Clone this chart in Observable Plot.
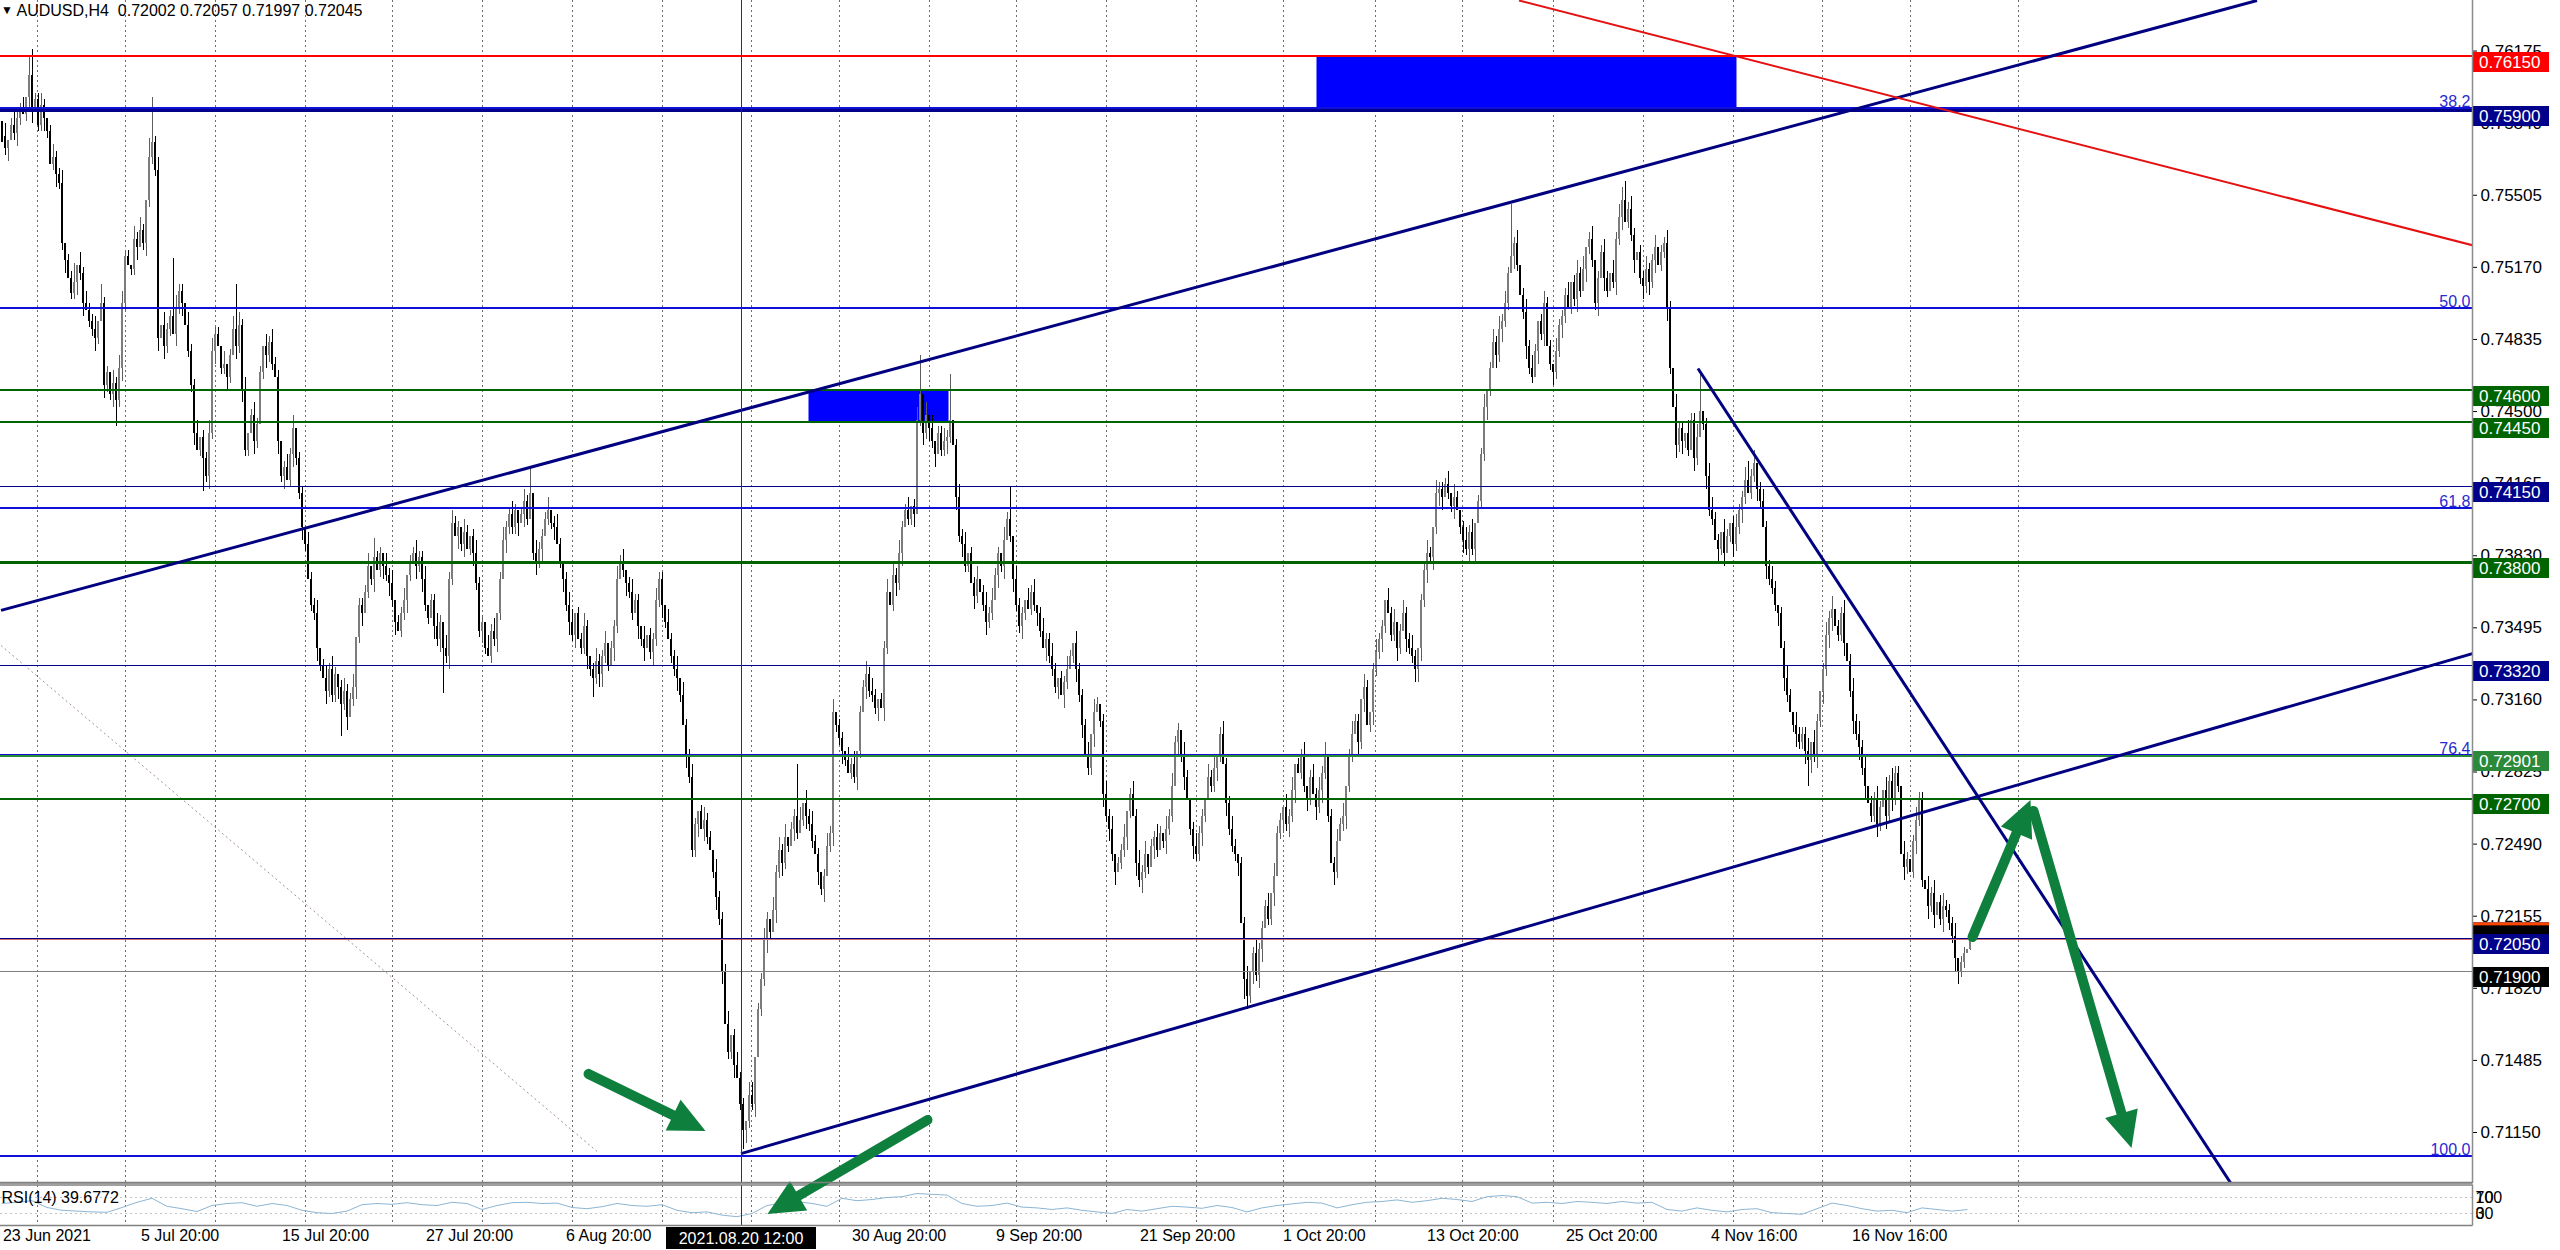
<!DOCTYPE html>
<html><head><meta charset="utf-8">
<script src="https://cdn.jsdelivr.net/npm/d3@7"></script>
<script src="https://cdn.jsdelivr.net/npm/@observablehq/plot@0.6"></script>
<style>
html,body{margin:0;padding:0;background:#fff;}
#wrap{position:relative;width:2560px;height:1250px;overflow:hidden;background:#fff;font-family:"Liberation Sans",Arial,sans-serif;}
#main,#rsi{position:absolute;left:0;}
#main{top:0;z-index:2;}
#rsi{top:1183px;z-index:1;}
#hdr{position:absolute;left:1px;top:0px;z-index:3;font-size:16px;line-height:20px;white-space:pre;color:#000;}
#hdr .tri{font-size:12px;vertical-align:2px;}
</style></head><body>
<div id="wrap"><div id="rsi"></div><div id="main"></div><div id="hdr"></div></div>
<script>
// ---------------- DATA ----------------
const symbol = "AUDUSD,H4";
const headerOHLC = [0.72002, 0.72057, 0.71997, 0.72045];
const firstOpenPips = 582;
// H4 closes, pips above 0.7000
const closePips = [
578,572,576,583,579,586,590,588,596,606,
590,595,583,592,586,580,565,568,560,556,
528,520,512,505,510,518,514,500,497,492,
488,484,492,500,462,468,458,463,455,470,
500,522,518,516,530,526,534,528,548,568,
575,562,484,490,480,488,494,486,498,506,
500,490,478,462,440,432,438,428,420,440,
478,486,480,470,472,466,476,488,480,490,
460,432,440,448,436,444,468,480,476,482,
472,466,436,420,424,418,430,442,428,412,
396,388,372,360,356,340,332,326,320,330,
318,328,322,314,320,308,316,322,345,360,
356,366,378,372,382,376,384,378,374,370,
362,352,348,356,362,374,380,384,378,382,
372,360,354,362,350,344,352,340,336,372,
398,392,396,388,394,386,392,384,370,348,
352,340,336,348,344,356,372,390,396,402,
396,404,398,402,408,400,412,384,380,386,
392,400,404,398,396,388,380,372,360,352,
346,356,344,340,350,336,330,326,334,328,
336,342,332,340,350,372,380,376,370,366,
356,362,350,344,340,346,338,344,362,372,
360,352,344,336,330,326,318,304,290,280,
246,258,264,256,260,252,246,236,224,214,
190,165,152,160,146,140,128,116,120,132,
128,150,172,186,204,214,208,218,236,246,
240,252,248,256,262,254,260,268,262,258,
250,244,236,228,234,248,254,310,304,298,
292,288,282,286,280,292,310,322,328,320,
318,312,316,312,340,366,360,374,370,384,
396,404,400,406,402,446,458,440,448,442,
436,430,440,432,436,438,446,434,410,392,
388,378,384,370,364,372,366,360,352,356,
362,374,384,378,390,400,392,372,360,350,
356,362,358,366,360,356,348,340,344,336,
330,322,326,318,324,330,336,342,330,318,
304,290,284,300,310,314,306,272,262,256,
244,236,240,246,252,264,272,262,240,232,
236,244,238,248,252,246,254,250,256,262,
276,296,302,290,280,270,256,248,244,254,
262,270,280,276,284,290,300,286,268,256,
248,244,240,212,186,178,190,198,188,200,
210,220,214,226,234,254,260,266,258,262,
274,286,282,290,276,270,280,272,266,274,
282,290,262,240,236,250,258,262,276,290,
300,306,296,316,322,304,310,330,338,344,
350,362,356,346,352,340,348,356,344,340,
336,330,340,362,376,384,382,396,412,414,
410,416,412,406,410,404,396,390,386,394,
386,398,408,430,452,460,470,482,476,488,
492,500,514,522,528,518,504,496,480,470,
466,478,492,486,500,480,472,468,478,490,
494,504,498,510,502,514,506,516,526,530,
520,500,512,524,512,506,514,510,530,540,
548,538,544,532,520,524,512,508,516,510,
520,526,518,524,528,498,470,452,434,442,
436,440,432,446,428,438,450,444,420,404,
400,390,386,394,384,392,398,388,396,404,
410,418,412,420,426,414,408,396,378,372,
368,360,356,340,326,318,310,304,300,296,
300,292,288,296,290,306,320,330,346,354,
358,350,346,356,342,334,320,306,300,294,
284,276,268,262,270,258,266,274,262,278,
270,282,276,244,238,242,236,250,260,270,
232,228,220,226,216,222,214,220,218,212,
206,196,190,194,198,200,200.2
];
// upper / lower wick lengths, in units of 3 pips, one digit per bar
const upWickDigits = `
1201211203 4112101211 2011302121 1203110212 2110212103 7120211921 1021120112 2110201272 1201211021 2110121201
1021120121 2101211201 1120311021 2011201121 1201121021 2110210121 1021201211 2101214021 1120121012 2011210121
1201121201 2110201121 1021120211 2101211021 1120121102 2011210212 1201182021 2110121201 1021201121 2101120212
1120126021 2011217012 1201120121 2110215021 1021201211 2101121021 1120210121 2011201212 1201121021 2110210121
1021201211 2101120121 1120211021 2011201212 1201121201 2110210121 1021201211 2101121021 1120210121 2011201212
1218120121 2101211021 1120121201 2011210212 2312101121 1201121021 1021126012 2110210121 1231201211 2101121021
1120210121 2011201212 1201121021 2110210121 1021201211 1201100`;
const loWickDigits = `
1120121012 2011210121 1201121201 1210211241 2101120121 1120211021 2011201512 1201121021 2110210121 1021201211
2101121021 1125120121 2011201212 1201121021 2110212712 1021201211 2101121021 1120210121 2011201212 1201121312
2110210121 1021201211 2101121021 1120210121 2011201321 1201121021 2110210121 1021201211 2101121021 1120210121
2011201212 1201121021 2110210121 1021201211 2101121021 1120210121 2011201212 1201121021 2110210121 1021201211
2101121021 1120321212 2011201212 1201121021 2110210121 1021201211 2101121021 1222121212 2011201212 1201121021
2110210121 1021201211 2101121021 1120210121 2011201212 1201121021 2110210121 1021201211 2101121021 1120210121
1242121212 2011201212 1201121021 2110210121 1021201211 1221100`;
const wickUnitPips = 3;

// RSI(14) read every 5 bars
const rsiStepBars = 5;
const rsiValues = [55,58,62,45,38,36,34,33,45,58, 68,48,42,35,50,55,57,48,55,50,
38,32,30,36,52,55,53,57,52,50, 58,55,40,50,57,58,55,56,45,42,
47,55,50,48,52,38,32,34,26,22, 30,50,56,60,55,48,68,62,65,70,
72,80,78,76,55,48,50,56,46,44, 40,44,38,34,30,40,36,42,48,46,
43,50,45,34,44,50,54,58,56,44, 52,58,60,64,58,62,68,65,60,72,
75,72,56,58,55,60,58,55,60,56, 58,40,36,44,38,34,40,42,32,30,
28,42,56,50,42,36,38,32,44,40, 36,39.6772];
const rsiLabel = "RSI(14) 39.6772";
// RSI scale labels as MT4 prints them: [text, level it sits on]
const rsiAxisTexts = ["100", "70", "30", "0"];
const rsiAxisAt = [70, 70, 30, 30];

// price axis ticks
const priceTicks = [0.76175,0.75840,0.75505,0.75170,0.74835,0.74500,0.74165,0.73830,0.73495,0.73160,0.72825,0.72490,0.72155,0.71820,0.71485,0.71150];

// horizontal lines
const levelPrices = [0.76150,0.75900,0.74600,0.74450,0.74150,0.73800,0.73320,0.72901,0.72700,0.72050,0.71900];
const levelLabels = ["0.76150","0.75900","0.74600","0.74450","0.74150","0.73800","0.73320","0.72901","0.72700","0.72050","0.71900"];
// Fibonacci levels
const fibNames = ["38.2","50.0","61.8","76.4","100.0"];
const fibPrices = [0.75911,0.74982,0.74052,0.72902,0.71043];
const bidPrice = 0.72045;

// date labels on the time axis (bar index of their left edge)
const dateTexts = ["23 Jun 2021","5 Jul 20:00","15 Jul 20:00","27 Jul 20:00","6 Aug 20:00","30 Aug 20:00","9 Sep 20:00","21 Sep 20:00","1 Oct 20:00","13 Oct 20:00","25 Oct 20:00","4 Nov 16:00","16 Nov 16:00"];
const dateBars = [0.3,46.3,93.3,141.3,188,283.3,331.3,379.3,427,475,521.3,569.7,616.7];
const gridBars = [11.7,41.3,71,101,130.3,160,190.3,220,249.7,279,309,338.3,368.3,398,427,457.7,486.7,517.3,547,577.3,606.7,636.3,672.3];
const cursorBar = 246.5;
const cursorText = "2021.08.20 12:00";

// drawn objects: [bar1, price1, bar2, price2]
const channelUpper = [-0.33, 0.73576, 751.67, 0.76410];
const channelLower = [246.33, 0.71052, 823.67, 0.73376];
const redLine      = [505.67, 0.76410, 823.67, 0.75272];
const downLine     = [565.33, 0.74700, 743.0, 0.70913];
const dottedLine   = [-0.33, 0.73413, 198.33, 0.71062];
const boxUpper = [438.33, 0.75900, 578.33, 0.76150];
const boxLower = [269.0, 0.74450, 315.67, 0.74600];
const arrowTails = [[195.67,0.71420],[308.67,0.71206],[657.0,0.72056],[677.33,0.72642]];
const arrowTips  = [[234.67,0.71155],[255.33,0.70769],[676.33,0.72693],[710.0,0.71076]];

// ---------------- STYLES ----------------
const FONT = "Liberation Sans, Arial, sans-serif";
const W = 2560, H = 1250, mainH = 1183, axisW = 88;
const xDomain = [-0.5, 823.5];
const yDomain = [0.70913, 0.76410];
const levelColors = ["#ff0000","#00008b","#006400","#006400","#00008b","#006400","#00008b","#2b8a3a","#006400","#00008b","#808080"];
const levelWidths = [2,3,2,2,1,3,1,2,2,1,1];
const labelBgs = ["#ff0000","#00008b","#006400","#006400","#00008b","#006400","#00008b","#2b8a3a","#006400","#00008b","#000000"];
const FIB = "#1010d8", FIBTEXT = "#2a2ad0";
const NAVY = "#000080";
const BULL_BODY = "#7c7c7c", BULL_WICK = "#5e5e5e";
const ARROW = "#0f7f3d";

// ---------------- BUILD ----------------
const upW = upWickDigits.replace(/\s/g, ""), loW = loWickDigits.replace(/\s/g, "");
const bars = closePips.map((c, i) => {
  let open = 0.7 + (i ? closePips[i - 1] : firstOpenPips) / 10000;
  let close = 0.7 + c / 10000;
  let high = Math.max(open, close) + (+(upW[i] || 1)) * wickUnitPips / 10000;
  let low = Math.min(open, close) - (+(loW[i] || 1)) * wickUnitPips / 10000;
  if (i === closePips.length - 1) { [open, high, low, close] = headerOHLC; }
  return {i, open, close, high, low, bull: close >= open};
});
const levels = levelPrices.map((p, k) => ({price: p, color: levelColors[k], width: levelWidths[k]}));
const fibs = fibPrices.map((p, k) => ({price: p, name: fibNames[k]}));
const toLink = (a, color, width) => ({b1: a[0], p1: a[1], b2: a[2], p2: a[3], color, width});
const trends = [
  toLink(channelUpper, NAVY, 3), toLink(channelLower, NAVY, 3),
  toLink(redLine, "#e51010", 2), toLink(downLine, NAVY, 3)
];
const boxes = [boxUpper, boxLower].map(b => ({b1: b[0], p1: b[1], b2: b[2], p2: b[3]}));
const rsiTable = rsiValues.map((v, k) => ({bar: k * rsiStepBars, v}));
const dates = dateTexts.map((t, k) => ({t, bar: dateBars[k]}));
const priceLabels = levelPrices.map((p, k) => ({price: p, text: levelLabels[k], bg: labelBgs[k]}));
const rsiAxis = rsiAxisTexts.map((t, k) => ({t, at: rsiAxisAt[k]}));

function arrowsMark(index, scales) {
  const g = d3.create("svg:g");
  arrowTails.forEach((t, k) => {
    const x1 = scales.x(t[0]), y1 = scales.y(t[1]);
    const x2 = scales.x(arrowTips[k][0]), y2 = scales.y(arrowTips[k][1]);
    const dx = x2 - x1, dy = y2 - y1, L = Math.hypot(dx, dy), ux = dx / L, uy = dy / L;
    const hl = 36, hw = 17;
    const bx = x2 - ux * hl, by = y2 - uy * hl;
    g.append("line").attr("x1", x1).attr("y1", y1).attr("x2", bx + ux * 4).attr("y2", by + uy * 4)
      .attr("stroke", ARROW).attr("stroke-width", 10).attr("stroke-linecap", "round");
    g.append("path").attr("d", `M${x2},${y2}L${bx - uy * hw},${by + ux * hw}L${bx + uy * hw},${by - ux * hw}Z`).attr("fill", ARROW);
  });
  return g.node();
}
function labelsMark(index, scales, values, dims) {
  const g = d3.create("svg:g").attr("text-anchor", "start");
  const x0 = dims.width - dims.marginRight + 1;
  // bid label partly hidden behind the 0.72050 label
  const yb = scales.y(bidPrice) - 13;
  g.append("rect").attr("x", x0).attr("y", yb - 4).attr("width", 76).attr("height", 20).attr("fill", "#000");
  g.append("rect").attr("x", x0).attr("y", yb - 4).attr("width", 76).attr("height", 3).attr("fill", "#ff4500");
  priceLabels.forEach(l => {
    const y = Math.round(scales.y(l.price));
    g.append("rect").attr("x", x0).attr("y", y - 4).attr("width", 76).attr("height", 20).attr("fill", l.bg);
    g.append("text").attr("x", x0 + 6).attr("y", y + 6).attr("dy", "0.35em").attr("fill", "#fff")
      .attr("text-anchor", "start").attr("font-size", 17).attr("font-family", FONT).text(l.text);
  });
  return g.node();
}
function mainFrame(index, scales, values, dims) {
  const g = d3.create("svg:g");
  const xr = dims.width - dims.marginRight + 0.5;
  g.append("line").attr("x1", xr).attr("x2", xr).attr("y1", 0).attr("y2", dims.height).attr("stroke", "#8c8c8c").attr("stroke-width", 1.5);
  g.append("line").attr("x1", 0).attr("x2", xr).attr("y1", dims.height - 0.5).attr("y2", dims.height - 0.5).attr("stroke", "#808080").attr("stroke-width", 1.5);
  return g.node();
}
function rsiFrame(index, scales, values, dims) {
  const g = d3.create("svg:g");
  const xr = dims.width - dims.marginRight + 0.5;
  const yt = dims.marginTop - 0.5, yb = dims.height - dims.marginBottom + 0.5;
  g.append("line").attr("x1", 0).attr("x2", xr).attr("y1", 0.5).attr("y2", 0.5).attr("stroke", "#a0a0a0");
  g.append("line").attr("x1", 0).attr("x2", xr).attr("y1", yt + 0.5).attr("y2", yt + 0.5).attr("stroke", "#808080").attr("stroke-width", 1.5);
  g.append("line").attr("x1", 0).attr("x2", xr).attr("y1", yb).attr("y2", yb).attr("stroke", "#808080").attr("stroke-width", 1.5);
  g.append("line").attr("x1", xr).attr("x2", xr).attr("y1", yt).attr("y2", yb).attr("stroke", "#8c8c8c").attr("stroke-width", 1.5);
  // crosshair time label
  const cx = scales.x(cursorBar);
  g.append("rect").attr("x", cx - 75).attr("y", yb + 1.5).attr("width", 150).attr("height", 22).attr("fill", "#000");
  g.append("text").attr("x", cx).attr("y", yb + 13).attr("dy", "0.35em").attr("text-anchor", "middle")
    .attr("fill", "#fff").attr("font-size", 16).attr("font-family", FONT).text(cursorText);
  return g.node();
}

const main = Plot.plot({
  width: W, height: mainH,
  marginTop: 0, marginBottom: 0, marginLeft: 0, marginRight: axisW,
  x: {domain: xDomain, axis: null},
  y: {domain: yDomain},
  style: {background: "transparent", overflow: "visible", fontFamily: FONT, fontSize: "17px", color: "#000"},
  marks: [
    Plot.ruleX(gridBars, {x: d => d, stroke: "#6e6e6e", strokeDasharray: "2,3", strokeWidth: 1, shapeRendering: "crispEdges"}),
    Plot.rect(boxes, {x1: "b1", x2: "b2", y1: "p1", y2: "p2", fill: "#0000ff"}),
    Plot.link([toLink(dottedLine)], {x1: "b1", y1: "p1", x2: "b2", y2: "p2", stroke: "#a89090", strokeDasharray: "2,3", strokeWidth: 1, clip: true}),
    Plot.ruleX(bars, {x: "i", y1: "low", y2: "high", stroke: d => d.bull ? BULL_WICK : "#000", strokeWidth: 1, shapeRendering: "crispEdges"}),
    Plot.ruleX(bars, {x: "i", y1: "open", y2: "close", stroke: d => d.bull ? BULL_BODY : "#000", strokeWidth: 2, shapeRendering: "crispEdges"}),
    Plot.ruleY(fibs, {y: "price", stroke: FIB, strokeWidth: 2, shapeRendering: "crispEdges"}),
    Plot.ruleY(levels, {y: "price", stroke: "color", strokeWidth: "width", shapeRendering: "crispEdges"}),
    Plot.ruleY([bidPrice], {y: d => d, stroke: "#d07070", strokeWidth: 1, shapeRendering: "crispEdges"}),
    Plot.text(fibs, {y: "price", text: "name", frameAnchor: "right", textAnchor: "end", lineAnchor: "bottom", dx: -2, dy: -1, fill: FIBTEXT, fontSize: 16}),
    Plot.link(trends, {x1: "b1", y1: "p1", x2: "b2", y2: "p2", stroke: "color", strokeWidth: "width", clip: true}),
    Plot.ruleX([cursorBar], {x: d => d, stroke: "#333", strokeWidth: 1, shapeRendering: "crispEdges"}),
    arrowsMark,
    Plot.axisY({anchor: "right", ticks: priceTicks, tickFormat: d => d.toFixed(5), tickSize: 4, tickPadding: 4, fontSize: 17, label: null}),
    labelsMark,
    mainFrame
  ]
});
document.getElementById("main").appendChild(main);

const rsiPlot = Plot.plot({
  width: W, height: H - mainH,
  marginTop: 2, marginBottom: 25, marginLeft: 0, marginRight: axisW,
  x: {domain: xDomain, axis: null},
  y: {domain: [0, 100], axis: null},
  style: {background: "transparent", overflow: "visible", fontFamily: FONT, fontSize: "16px", color: "#000"},
  marks: [
    Plot.ruleX(gridBars, {x: d => d, stroke: "#6e6e6e", strokeDasharray: "2,3", strokeWidth: 1, shapeRendering: "crispEdges"}),
    Plot.ruleY([30, 70], {y: d => d, stroke: "#c4c4c4", strokeDasharray: "2,3", shapeRendering: "crispEdges"}),
    Plot.line(rsiTable, {x: "bar", y: "v", stroke: "#8cb6d4", strokeWidth: 1}),
    Plot.ruleX([cursorBar], {x: d => d, stroke: "#333", strokeWidth: 1, shapeRendering: "crispEdges"}),
    Plot.text([rsiLabel], {text: d => d, frameAnchor: "top-left", lineAnchor: "top", dx: 1, dy: 6, fontSize: 16, fill: "#000"}),
    Plot.text(rsiAxis, {y: "at", text: "t", frameAnchor: "right", textAnchor: "start", dx: 3, fontSize: 16, fill: "#000"}),
    Plot.text(dates, {x: "bar", text: "t", frameAnchor: "bottom", textAnchor: "start", dy: 15, fontSize: 16, fill: "#000"}),
    rsiFrame
  ]
});
document.getElementById("rsi").appendChild(rsiPlot);

document.getElementById("hdr").innerHTML = '<span class="tri">\u25BC</span> ' + symbol + '  ' + headerOHLC.map(v => v.toFixed(5)).join(" ");
</script>
</body></html>
